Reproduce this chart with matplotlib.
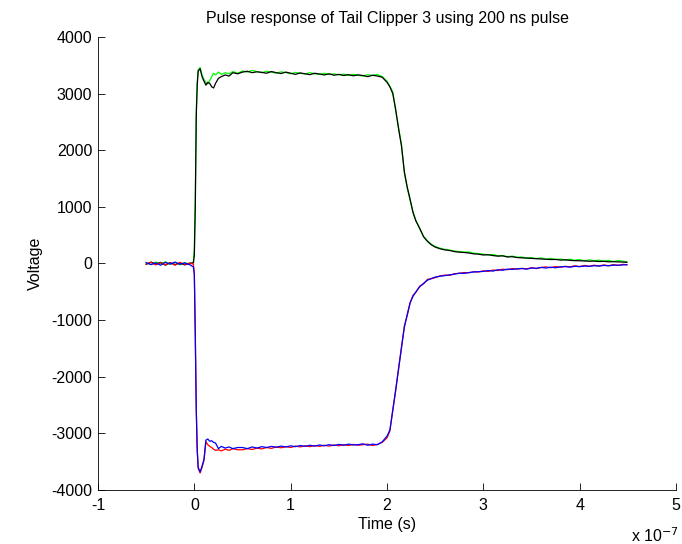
import matplotlib
matplotlib.use("Agg")
import matplotlib.pyplot as plt

plt.rcParams["font.family"] = ["Liberation Sans", "DejaVu Sans"]
plt.rcParams["axes.unicode_minus"] = False

# Sample times in units of 1e-7 s
t = [-0.50, -0.45, -0.40, -0.35, -0.30, -0.25, -0.20, -0.15, -0.10, -0.05, -0.01,
     0.00, 0.01, 0.02, 0.03, 0.04, 0.06, 0.08, 0.10, 0.12, 0.14, 0.16, 0.18, 0.20, 0.22, 0.25, 0.28, 0.32, 0.36, 0.40, 0.45,
     0.50, 0.55, 0.60, 0.65, 0.70, 0.75, 0.80, 0.85, 0.90, 0.95, 1.00, 1.05, 1.10, 1.15, 1.20,
     1.25, 1.30, 1.35, 1.40, 1.45, 1.50, 1.55, 1.60, 1.65, 1.70, 1.75, 1.80, 1.85, 1.90, 1.95,
     2.00, 2.03, 2.06, 2.09, 2.12, 2.15, 2.18, 2.21, 2.24, 2.27, 2.30, 2.34, 2.38, 2.42, 2.46,
     2.50, 2.55, 2.60, 2.65, 2.70, 2.75, 2.80, 2.85, 2.90, 2.95, 3.00, 3.05, 3.10, 3.15, 3.20,
     3.25, 3.30, 3.35, 3.40, 3.45, 3.50, 3.55, 3.60, 3.65, 3.70, 3.75, 3.80, 3.85, 3.90, 3.95,
     4.00, 4.05, 4.10, 4.15, 4.20, 4.25, 4.30, 4.35, 4.40, 4.45, 4.49]

green = [10, -20, 25, -5, 30, -15, 20, -25, 15, -10, 20,
         250, 1200, 2700, 3200, 3420, 3460, 3330, 3250, 3200, 3170, 3230, 3300, 3360, 3330, 3380, 3340, 3370, 3350, 3390, 3360,
         3400, 3380, 3410, 3390, 3370, 3395, 3380, 3360, 3385, 3370, 3350, 3375, 3360, 3345, 3370,
         3350, 3340, 3360, 3335, 3350, 3330, 3345, 3320, 3340, 3325, 3310, 3335, 3320, 3340, 3300,
         3220, 3130, 3030, 2700, 2400, 2100, 1600, 1330, 1120, 910, 760, 610, 480, 400, 340,
         300, 270, 250, 235, 220, 210, 200, 205, 180, 175, 165, 150, 160, 135, 140,
         120, 130, 110, 115, 95, 105, 85, 100, 75, 90, 70, 80, 60, 75, 55,
         70, 45, 65, 50, 60, 40, 55, 35, 50, 40, 30]

black = [-15, 25, -10, 20, -30, 15, -20, 10, -25, 5, 10,
         150, 1000, 2600, 3150, 3400, 3440, 3300, 3220, 3150, 3200, 3180, 3120, 3100, 3180, 3270, 3300, 3330, 3310, 3370, 3350,
         3380, 3395, 3370, 3385, 3375, 3360, 3390, 3370, 3355, 3380, 3360, 3340, 3365, 3350, 3335,
         3360, 3345, 3330, 3350, 3325, 3340, 3320, 3335, 3315, 3330, 3320, 3300, 3325, 3310, 3290,
         3200, 3120, 3000, 2720, 2380, 2080, 1620, 1350, 1130, 900, 750, 620, 470, 390, 330,
         290, 260, 240, 230, 210, 200, 195, 185, 170, 165, 150, 155, 140, 130, 135,
         115, 120, 105, 100, 95, 90, 85, 80, 75, 70, 72, 60, 65, 55, 50,
         48, 45, 40, 42, 35, 38, 30, 32, 28, 25, 20]

red = [-10, 20, -25, 15, -20, 10, -30, 20, -15, 5, -10,
       -180, -1250, -2550, -3280, -3620, -3700, -3600, -3480, -3150, -3200, -3230, -3250, -3280, -3300, -3290, -3310, -3280, -3300, -3270, -3290,
       -3290, -3270, -3285, -3260, -3275, -3250, -3265, -3240, -3255, -3235, -3250, -3225, -3240, -3220, -3235,
       -3215, -3230, -3210, -3225, -3205, -3220, -3200, -3215, -3195, -3210, -3200, -3190, -3215, -3195, -3160,
       -3080, -2960, -2580, -2250, -1850, -1500, -1100, -920, -700, -560, -510, -400, -360, -280, -270,
       -250, -220, -205, -210, -180, -175, -160, -165, -145, -150, -130, -140, -115, -125, -100,
       -110, -90, -100, -85, -95, -75, -90, -70, -60, -75, -55, -65, -50, -60, -40,
       -55, -35, -50, -30, -45, -25, -40, -20, -35, -15, -25]

blue = [15, -20, 10, -30, 20, -10, 25, -15, 10, -20, -60,
        -200, -1300, -2600, -3300, -3600, -3680, -3580, -3460, -3120, -3100, -3140, -3130, -3160, -3170, -3270, -3230, -3260, -3240, -3270, -3250,
        -3250, -3270, -3240, -3260, -3235, -3250, -3230, -3245, -3225, -3240, -3220, -3235, -3215, -3230, -3210,
        -3225, -3205, -3220, -3200, -3215, -3195, -3210, -3190, -3205, -3200, -3185, -3210, -3190, -3200, -3150,
        -3050, -2940, -2600, -2230, -1870, -1480, -1130, -900, -690, -580, -500, -410, -350, -295, -265,
        -240, -225, -215, -200, -190, -170, -175, -160, -150, -145, -140, -125, -135, -110, -120,
        -100, -105, -95, -90, -100, -80, -85, -70, -80, -65, -75, -60, -55, -65, -50,
        -55, -45, -50, -40, -45, -35, -40, -30, -30, -25, -20]

xticks = [-1, 0, 1, 2, 3, 4, 5]
yticks = [-4000, -3000, -2000, -1000, 0, 1000, 2000, 3000, 4000]

fig = plt.figure(figsize=(6.82, 5.44), dpi=100)
ax = fig.add_axes([0.1437, 0.0993, 0.8475, 0.8327])

ax.plot(t, green, color="#00ff00", lw=0.9)
ax.plot(t, black, color="black", lw=0.9)
ax.plot(t, red, color="red", lw=0.9)
ax.plot(t, blue, color="blue", lw=0.9)

ax.set_xlim(-1, 5)
ax.set_ylim(-4000, 4000)
ax.set_xticks(xticks)
ax.set_yticks(yticks)
ax.set_xticklabels([str(v) for v in xticks])
ax.set_yticklabels([str(v) for v in yticks])
ax.spines["top"].set_visible(False)
ax.spines["right"].set_visible(False)
for s in ("left", "bottom"):
    ax.spines[s].set_linewidth(0.6)
ax.tick_params(direction="in", length=5, width=0.6, labelsize=11.5)
ax.tick_params(axis="x", pad=5.5)
ax.tick_params(axis="y", pad=4)

ax.set_title("Pulse response of Tail Clipper 3 using 200 ns pulse", fontsize=11.5, pad=10)
ax.set_xlabel("Time (s)", fontsize=11.5, labelpad=3)
ax.set_ylabel("Voltage", fontsize=11.5, labelpad=6)
fig.text(0.925, 0.004, "x 10$^{-7}$", fontsize=11.5)

fig.savefig("out.png", dpi=100)
